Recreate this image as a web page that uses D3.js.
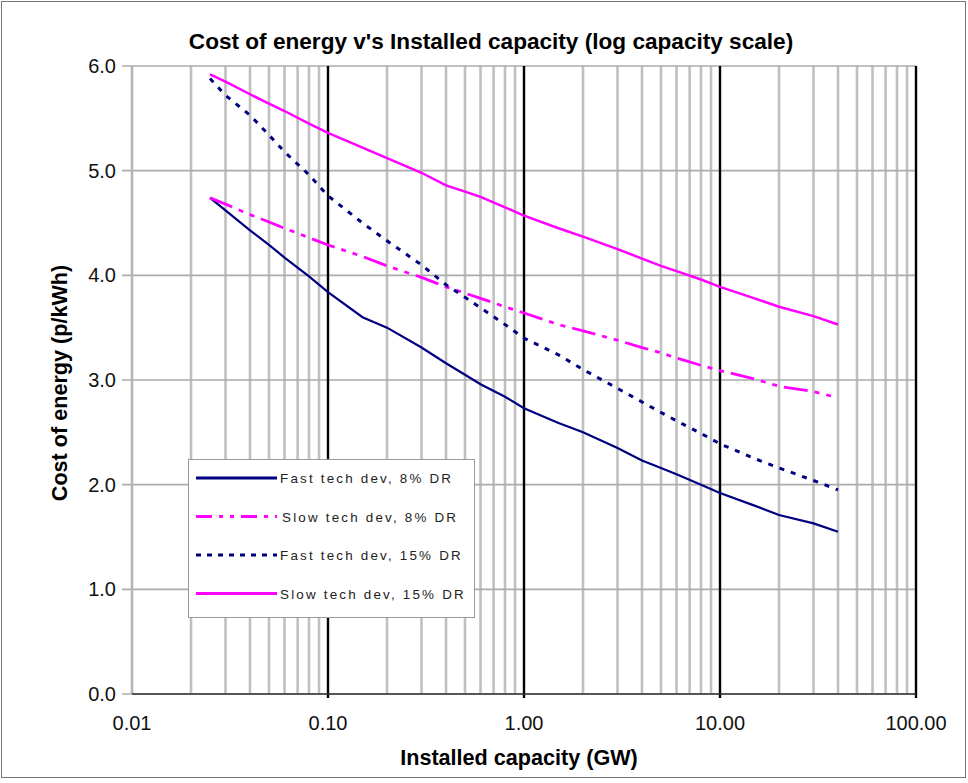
<!DOCTYPE html>
<html>
<head>
<meta charset="utf-8">
<script src="https://cdn.jsdelivr.net/npm/d3@7"></script>
<style>
  body { margin: 0; background: #fff; }
  text { font-family: Arial, "Liberation Sans", sans-serif; }
</style>
</head>
<body>
<script>
var width = 968,
  height = 783;

// capacity (GW) sampled along each curve
var capacity = [0.025, 0.03, 0.04, 0.05, 0.06, 0.08, 0.1, 0.15, 0.2, 0.3, 0.4, 0.5, 0.6, 0.8,
                1, 1.5, 2, 3, 4, 5, 6, 8, 10, 15, 20, 30, 40];

var fast8  = [4.74, 4.62, 4.43, 4.29, 4.17, 3.99, 3.84, 3.60, 3.50, 3.31, 3.16, 3.05, 2.96, 2.84,
              2.73, 2.59, 2.50, 2.35, 2.23, 2.16, 2.10, 2.00, 1.92, 1.80, 1.71, 1.63, 1.55];
var slow8  = [4.74, 4.68, 4.58, 4.51, 4.45, 4.36, 4.29, 4.18, 4.09, 3.98, 3.89, 3.83, 3.78, 3.70,
              3.64, 3.53, 3.47, 3.38, 3.31, 3.26, 3.21, 3.14, 3.09, 3.01, 2.94, 2.89, 2.83];
var fast15 = [5.88, 5.72, 5.53, 5.34, 5.18, 4.96, 4.76, 4.50, 4.33, 4.10, 3.91, 3.79, 3.69, 3.53,
              3.40, 3.24, 3.10, 2.92, 2.79, 2.69, 2.61, 2.49, 2.39, 2.25, 2.16, 2.04, 1.95];
var slow15 = [5.92, 5.85, 5.73, 5.64, 5.57, 5.45, 5.36, 5.22, 5.12, 4.98, 4.86, 4.80, 4.75, 4.65,
              4.57, 4.45, 4.37, 4.25, 4.16, 4.09, 4.04, 3.96, 3.89, 3.78, 3.70, 3.61, 3.53];

var seriesNames = ["Fast tech dev, 8% DR", "Slow tech dev, 8% DR",
                   "Fast tech dev, 15% DR", "Slow tech dev, 15% DR"];

var xTicks = [0.01, 0.1, 1, 10, 100];
var yTicks = [0, 1, 2, 3, 4, 5, 6];

var scaleX = d3.scaleLog()
                .domain([0.01, 100])
                .range([132, 916]);

var scaleY = d3.scaleLinear()
                .domain([0, 6])
                .range([694, 66]);

var styles = [
  { color: "#000080", width: 2.2, dash: null,                 legendDash: null },
  { color: "#ff00ff", width: 2.8, dash: "24,7,5,7,5,7",       legendDash: "16,7,4,7,4,7" },
  { color: "#000080", width: 3,   dash: "5,7",                legendDash: "5,6" },
  { color: "#ff00ff", width: 2.5, dash: null,                 legendDash: null }
];

function drawGrid(svg) {
  // minor log lines
  var minor = [];
  [0.01, 0.1, 1, 10].forEach(function(d) {
    for (var k = 2; k <= 9; k++) minor.push(d * k);
  });

  svg.append("g").selectAll("line")
      .data(minor)
      .enter()
      .append("line")
      .attr("x1", function(d) { return scaleX(d); })
      .attr("x2", function(d) { return scaleX(d); })
      .attr("y1", scaleY(6))
      .attr("y2", scaleY(0))
      .style("stroke", "#c0c0c0")
      .style("stroke-width", 2.6);

  svg.append("g").selectAll("line")
      .data(yTicks)
      .enter()
      .append("line")
      .attr("x1", scaleX(0.01) - 10)
      .attr("x2", scaleX(100))
      .attr("y1", function(d) { return scaleY(d); })
      .attr("y2", function(d) { return scaleY(d); })
      .style("stroke", "#ababab")
      .style("stroke-width", 1.6);

  // left axis line (gray)
  svg.append("line")
      .attr("x1", scaleX(0.01))
      .attr("x2", scaleX(0.01))
      .attr("y1", scaleY(6))
      .attr("y2", scaleY(0))
      .style("stroke", "#b5b5b5")
      .style("stroke-width", 2.6);

  // decade lines
  svg.append("g").selectAll("line")
      .data(xTicks.slice(1))
      .enter()
      .append("line")
      .attr("x1", function(d) { return scaleX(d); })
      .attr("x2", function(d) { return scaleX(d); })
      .attr("y1", scaleY(6))
      .attr("y2", scaleY(0) + 4)
      .style("stroke", "#000")
      .style("stroke-width", 2.4);

  svg.append("line")
      .attr("x1", scaleX(0.01))
      .attr("x2", scaleX(100))
      .attr("y1", scaleY(0))
      .attr("y2", scaleY(0))
      .style("stroke", "#333")
      .style("stroke-width", 1.5);
}

function drawAxes(svg) {
  var fmtX = d3.format(".2f"),
    fmtY = d3.format(".1f");

  svg.append("g").selectAll("text")
      .data(xTicks)
      .enter()
      .append("text")
      .attr("x", function(d) { return scaleX(d); })
      .attr("y", 730)
      .attr("text-anchor", "middle")
      .style("font-size", "20px")
      .style("fill", "#111")
      .text(function(d) { return fmtX(d); });

  svg.append("g").selectAll("text")
      .data(yTicks)
      .enter()
      .append("text")
      .attr("x", 116)
      .attr("y", function(d) { return scaleY(d) + 7; })
      .attr("text-anchor", "end")
      .style("font-size", "20px")
      .style("fill", "#111")
      .text(function(d) { return fmtY(d); });

  svg.append("text")
      .attr("x", 491)
      .attr("y", 49)
      .attr("text-anchor", "middle")
      .style("font-size", "22.6px")
      .style("font-weight", "bold")
      .text("Cost of energy v's Installed capacity (log capacity scale)");

  svg.append("text")
      .attr("x", 519)
      .attr("y", 765)
      .attr("text-anchor", "middle")
      .style("font-size", "21.6px")
      .style("font-weight", "bold")
      .text("Installed capacity (GW)");

  svg.append("text")
      .attr("transform", "translate(67,383) rotate(-90)")
      .attr("text-anchor", "middle")
      .style("font-size", "21.6px")
      .style("font-weight", "bold")
      .text("Cost of energy (p/kWh)");
}

function drawLines(svg) {
  var all = [fast8, slow8, fast15, slow15];

  var line = d3.line()
      .x(function(d, i) { return scaleX(capacity[i]); })
      .y(function(d) { return scaleY(d); });

  svg.append("g").selectAll("path")
      .data(all)
      .enter()
      .append("path")
      .attr("d", line)
      .style("fill", "none")
      .style("stroke", function(d, i) { return styles[i].color; })
      .style("stroke-width", function(d, i) { return styles[i].width; })
      .style("stroke-dasharray", function(d, i) { return styles[i].dash; });
}

function drawLegend(svg) {
  var legend = svg.append("g").attr("transform", "translate(188,459)");

  legend.append("rect")
      .attr("x", 0.5)
      .attr("y", 0.5)
      .attr("width", 286)
      .attr("height", 158)
      .style("fill", "#fff")
      .style("stroke", "#999")
      .style("stroke-width", 1);

  var rows = legend.selectAll("g.row")
      .data(seriesNames)
      .enter()
      .append("g")
      .attr("class", "row")
      .attr("transform", function(d, i) { return "translate(0," + (19 + i * 38.5) + ")"; });

  rows.append("line")
      .attr("x1", 8)
      .attr("x2", 89)
      .attr("y1", 0)
      .attr("y2", 0)
      .style("stroke", function(d, i) { return styles[i].color; })
      .style("stroke-width", 3)
      .style("stroke-dasharray", function(d, i) { return styles[i].legendDash; });

  rows.append("text")
      .attr("x", function(d, i) { return i == 1 ? 94 : 92; })
      .attr("y", 5)
      .style("font-size", "13.4px")
      .style("letter-spacing", "2.2px")
      .style("fill", "#222")
      .text(function(d) { return d; });
}

function loadChart() {
  var svg = d3.select("body").append("svg")
      .attr("width", width)
      .attr("height", height);

  svg.append("rect")
      .attr("x", 1.5)
      .attr("y", 1.5)
      .attr("width", 964)
      .attr("height", 776)
      .style("fill", "#fff")
      .style("stroke", "#777")
      .style("stroke-width", 1);

  drawGrid(svg);
  drawLines(svg);
  drawLegend(svg);
  drawAxes(svg);
}

loadChart();
</script>
</body>
</html>
